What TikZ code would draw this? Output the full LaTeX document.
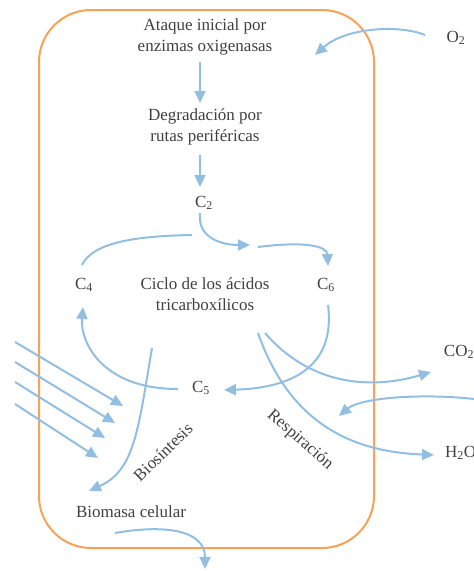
\documentclass[tikz,border=0pt]{standalone}
\usepackage{fontspec}
\setmainfont{Liberation Serif}
\usetikzlibrary{arrows.meta}
\definecolor{cellorange}{HTML}{F7A257}
\definecolor{flowblue}{HTML}{92BEE2}
\definecolor{txtgray}{HTML}{404040}
\begin{document}
\begin{tikzpicture}[x=1pt,y=-1pt,
  lbl/.style={text=txtgray,font=\fontsize{17}{20.5}\selectfont,align=center,inner sep=0pt},
  arr/.style={draw=flowblue,line width=2pt,-{Triangle[length=12pt,width=11pt]}},
  ln/.style={draw=flowblue,line width=2pt}]
\useasboundingbox (0,0) rectangle (474,571);
\draw[cellorange,line width=2pt,rounded corners=52pt] (39,10) rectangle (374,548);
% text nodes
\node[lbl] (ataque) at (205,37) {Ataque inicial por\\enzimas oxigenasas};
\node[lbl] (degr) at (205,127) {Degradación por\\rutas periféricas};
\node[lbl] (c2) at (204,203) {C\textsubscript{2}};
\node[lbl] (c4) at (84,285) {C\textsubscript{4}};
\node[lbl] (c6) at (326,285) {C\textsubscript{6}};
\node[lbl] (c5) at (201,388) {C\textsubscript{5}};
\node[lbl] (ciclo) at (205,294) {Ciclo de los ácidos\\tricarboxílicos};
\node[lbl] (o2) at (456,38) {O\textsubscript{2}};
\node[lbl] (co2) at (459,352) {CO\textsubscript{2}};
\node[lbl,anchor=west] (h2o) at (445,453) {H\textsubscript{2}O};
\node[lbl] (biomasa) at (131,512) {Biomasa celular};
\node[lbl,rotate=44] (bios) at (163,452) {Biosíntesis};
\node[lbl,rotate=-41] (resp) at (300,440) {Respiración};
% coordinates
\coordinate (o2s) at (425,35);
\coordinate (o2e) at (315,55);
\coordinate (a1s) at (200,62);
\coordinate (a1e) at (200,103);
\coordinate (a2s) at (200,155);
\coordinate (a2e) at (200,187);
\coordinate (c2s) at (200,213);
\coordinate (c2e) at (250,245);
\coordinate (tops) at (258,247);
\coordinate (tope) at (328,266);
\coordinate (tls) at (192,235);
\coordinate (tle) at (82,265);
\coordinate (c6s) at (328,305);
\coordinate (c6e) at (224,390);
\coordinate (c5s) at (178,389);
\coordinate (c5e) at (83,307);
\coordinate (bis) at (152,348);
\coordinate (bie) at (89,491);
\coordinate (res) at (258,333);
\coordinate (ree) at (434,455);
\coordinate (cos) at (265,333);
\coordinate (coe) at (431,372);
\coordinate (ins) at (474,399);
\coordinate (ine) at (339,416);
\coordinate (bms) at (115,533);
\coordinate (bme) at (205,569);
% connectors
\draw[arr] (o2s) .. controls (398,24) and (345,28) .. (o2e);
\draw[arr] (a1s) -- (a1e);
\draw[arr] (a2s) -- (a2e);
\draw[arr] (c2s) .. controls (197,238) and (222,245) .. (c2e);
\draw[arr] (tops) .. controls (305,241) and (327,246) .. (tope);
\draw[ln] (tls) .. controls (130,236) and (92,244) .. (tle);
\draw[arr] (c6s) .. controls (336,368) and (290,388) .. (c6e);
\draw[arr] (c5s) .. controls (102,389) and (80,342) .. (c5e);
\draw[arr] (bis) .. controls (138,430) and (135,470) .. (bie);
\draw[arr] (res) .. controls (292,430) and (360,452) .. (ree);
\draw[arr] (cos) .. controls (310,385) and (370,390) .. (coe);
\draw[arr] (ins) .. controls (420,393) and (360,398) .. (ine);
\draw[arr] (bms) .. controls (160,525) and (205,528) .. (bme);
% light inputs
\foreach \i/\sy/\ex/\ey in {1/342/123/406,2/362/115/423,3/382/105/438,4/404/98/458}{
  \coordinate (l\i s) at (15,\sy);
  \coordinate (l\i e) at (\ex,\ey);
  \draw[arr] (l\i s) -- (l\i e);
}
\end{tikzpicture}
\end{document}
